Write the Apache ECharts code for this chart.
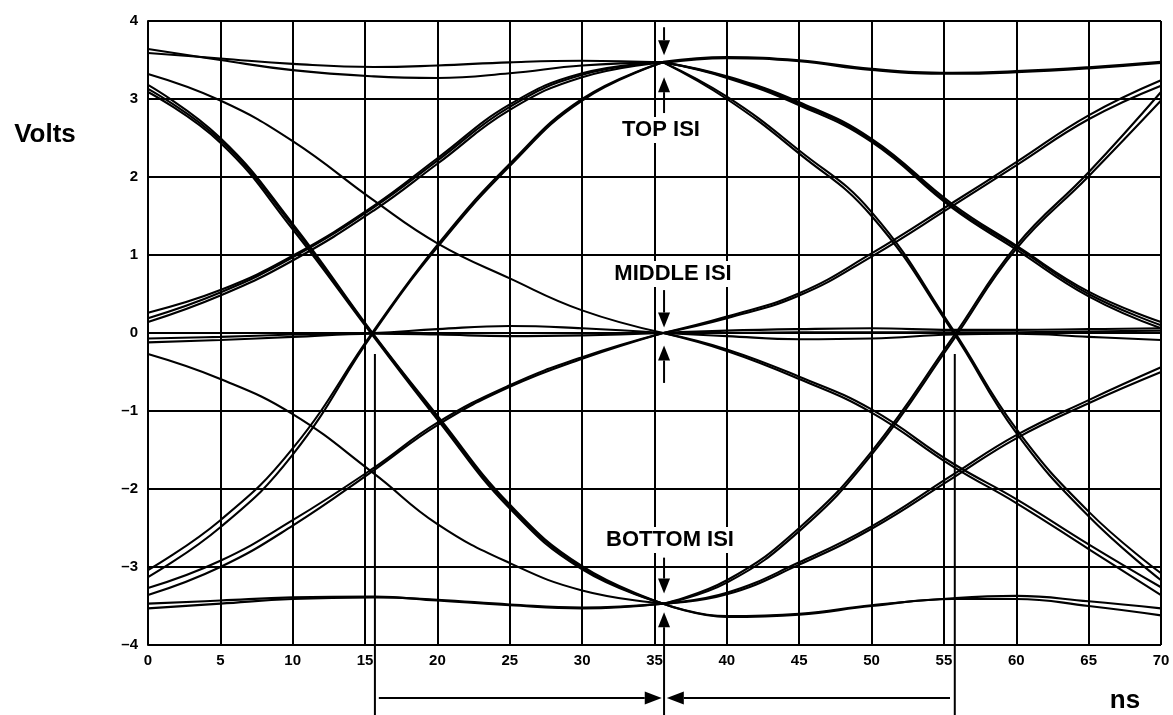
<!DOCTYPE html>
<html>
<head>
<meta charset="utf-8">
<script src="https://cdn.jsdelivr.net/npm/echarts@6/dist/echarts.min.js"></script>
<style>
  html, body { margin: 0; padding: 0; background: #fff; }
  #chart { width: 1173px; height: 715px; }
</style>
</head>
<body>
<div id="chart"></div>
<script>
// Sample instants (ns) for the two halves of the eye: the left half runs into
// the sampling point at 35.6 ns, the right half runs out of it.
const leftTimes  = [0, 5, 10, 15.6, 20, 25, 30, 35.6];
const rightTimes = [35.6, 40, 45, 50, 55.6, 60, 65, 70];

// Left half traces (volts at leftTimes), grouped by level transition
const topTopLeft = [
  [3.64, 3.50, 3.37, 3.29, 3.27, 3.33, 3.43, 3.47],
  [3.59, 3.52, 3.45, 3.41, 3.43, 3.47, 3.49, 3.47]
];
const topMidLeft = [
  [3.32, 2.98, 2.46, 1.70, 1.15, 0.70, 0.29, 0.00]
];
const topBotLeft = [
  [3.18, 2.50, 1.40, -0.02, -1.06, -2.20, -2.99, -3.47],
  [3.13, 2.47, 1.37, -0.03, -1.08, -2.22, -3.01, -3.47],
  [3.09, 2.44, 1.33, -0.05, -1.11, -2.25, -3.03, -3.47]
];
const midTopLeft = [
  [0.26, 0.55, 0.99, 1.63, 2.24, 2.93, 3.33, 3.47],
  [0.19, 0.52, 0.97, 1.61, 2.21, 2.90, 3.31, 3.47],
  [0.14, 0.48, 0.93, 1.57, 2.17, 2.86, 3.28, 3.47]
];
const midMidLeft = [
  [-0.07, -0.05, -0.02, 0.00, 0.05, 0.09, 0.06, 0.00],
  [-0.12, -0.09, -0.05, -0.01, -0.02, -0.04, -0.03, 0.00]
];
const midBotLeft = [
  [-0.27, -0.59, -1.04, -1.80, -2.45, -2.95, -3.30, -3.47]
];
const botTopLeft = [
  [-3.04, -2.40, -1.48, 0.03, 1.13, 2.17, 3.00, 3.47],
  [-3.13, -2.49, -1.56, 0.01, 1.10, 2.14, 2.98, 3.47]
];
const botMidLeft = [
  [-3.27, -2.92, -2.40, -1.73, -1.15, -0.67, -0.31, 0.00],
  [-3.36, -3.00, -2.47, -1.76, -1.18, -0.69, -0.33, 0.00]
];
const botBotLeft = [
  [-3.47, -3.43, -3.39, -3.38, -3.43, -3.49, -3.53, -3.47],
  [-3.53, -3.47, -3.41, -3.39, -3.42, -3.48, -3.52, -3.47]
];

// Right half traces (volts at rightTimes)
const topTopRight = [
  [3.47, 3.53, 3.49, 3.38, 3.33, 3.35, 3.40, 3.47]
];
const topMidRight = [
  [3.47, 3.29, 2.96, 2.49, 1.65, 1.12, 0.53, 0.14],
  [3.47, 3.28, 2.94, 2.47, 1.62, 1.10, 0.50, 0.10],
  [3.47, 3.27, 2.92, 2.45, 1.60, 1.07, 0.47, 0.06]
];
const topBotRight = [
  [3.47, 3.03, 2.34, 1.55, 0.05, -1.23, -2.29, -3.08],
  [3.47, 3.00, 2.30, 1.50, 0.02, -1.28, -2.35, -3.17]
];
const midTopRight = [
  [0.00, 0.21, 0.51, 1.02, 1.67, 2.19, 2.79, 3.24],
  [0.00, 0.19, 0.48, 0.98, 1.63, 2.15, 2.74, 3.17]
];
const midMidRight = [
  [0.00, 0.03, 0.05, 0.06, 0.04, 0.04, 0.05, 0.06],
  [0.00, 0.00, 0.01, 0.01, 0.01, 0.01, 0.02, 0.03],
  [0.00, -0.04, -0.08, -0.07, -0.02, -0.01, -0.05, -0.09]
];
const midBotRight = [
  [0.00, -0.21, -0.56, -0.98, -1.67, -2.13, -2.71, -3.26],
  [0.00, -0.23, -0.59, -1.02, -1.71, -2.18, -2.77, -3.36]
];
const botTopRight = [
  [-3.47, -3.17, -2.50, -1.52, -0.06, 1.12, 2.06, 3.09],
  [-3.47, -3.20, -2.54, -1.56, -0.10, 1.08, 2.01, 2.98]
];
const botMidRight = [
  [-3.47, -3.33, -2.94, -2.48, -1.82, -1.31, -0.86, -0.44],
  [-3.47, -3.35, -2.97, -2.51, -1.86, -1.35, -0.90, -0.50]
];
const botBotRight = [
  [-3.47, -3.63, -3.60, -3.49, -3.40, -3.37, -3.44, -3.53],
  [-3.47, -3.64, -3.61, -3.50, -3.41, -3.41, -3.50, -3.62]
];

// Annotation geometry (data units)
const isiTime = 35.66;
const edgeTimes = [15.68, 55.75];
const edgeTop = -0.27;
const lowEnd = -4.95;
const spanLevel = -4.68;
// [from, to] along the ISI marker; the head sits at "to"
const isiArrows = [
  [3.92, 3.56], [2.82, 3.28],
  [0.55, 0.07], [-0.64, -0.16],
  [-2.88, -3.34], [lowEnd, -3.58]
];
const spanArrows = [
  [[15.95, spanLevel], [35.50, spanLevel]],
  [[55.42, spanLevel], [35.85, spanLevel]]
];

const FONT = '"Liberation Sans", Arial, Helvetica, sans-serif';
const TRACE_W = 2.1;

function toPairs(times, vals) {
  return times.map((t, i) => [t, vals[i]]);
}

const groups = [
  [leftTimes, topTopLeft, TRACE_W], [leftTimes, topMidLeft, TRACE_W], [leftTimes, topBotLeft, TRACE_W],
  [leftTimes, midTopLeft, TRACE_W], [leftTimes, midMidLeft, TRACE_W], [leftTimes, midBotLeft, TRACE_W],
  [leftTimes, botTopLeft, TRACE_W], [leftTimes, botMidLeft, TRACE_W], [leftTimes, botBotLeft, TRACE_W],
  [rightTimes, topTopRight, 3.2], [rightTimes, topMidRight, TRACE_W], [rightTimes, topBotRight, TRACE_W],
  [rightTimes, midTopRight, TRACE_W], [rightTimes, midMidRight, TRACE_W], [rightTimes, midBotRight, TRACE_W],
  [rightTimes, botTopRight, TRACE_W], [rightTimes, botMidRight, TRACE_W], [rightTimes, botBotRight, TRACE_W]
];

const series = [];
groups.forEach(([times, traces, w]) => {
  traces.forEach(vals => {
    series.push({
      type: 'line',
      data: toPairs(times, vals),
      smooth: 0.45,
      symbol: 'none',
      silent: true,
      animation: false,
      lineStyle: { color: '#000', width: w }
    });
  });
});

const axisText = { color: '#000', fontSize: 15, fontWeight: 'bold', fontFamily: FONT };

const option = {
  backgroundColor: '#fff',
  animation: false,
  grid: { left: 148, top: 21, width: 1013, height: 624 },
  xAxis: {
    type: 'value', min: 0, max: 70, interval: 5,
    axisLine: { show: true, lineStyle: { color: '#000', width: 2 } },
    axisTick: { show: false },
    axisLabel: Object.assign({ margin: 8 }, axisText),
    splitLine: { show: true, lineStyle: { color: '#000', width: 2 } }
  },
  yAxis: {
    type: 'value', min: -4, max: 4, interval: 1,
    axisLine: { show: true, lineStyle: { color: '#000', width: 2 } },
    axisTick: { show: false },
    axisLabel: Object.assign({
      margin: 10,
      formatter: v => (v < 0 ? '\u2013' + (-v) : String(v))
    }, axisText),
    splitLine: { show: true, lineStyle: { color: '#000', width: 2 } }
  },
  series: series
};

const chart = echarts.init(document.getElementById('chart'));
chart.setOption(option);

// Overlay: sampling markers, ISI arrows and labels
const px = (t, v) => chart.convertToPixel({ gridIndex: 0 }, [t, v]);

function line(p0, p1) {
  return { type: 'line', z: 100, shape: { x1: p0[0], y1: p0[1], x2: p1[0], y2: p1[1] },
           style: { stroke: '#000', lineWidth: 2 } };
}
function arrow(p0, p1, head, half) {
  const dx = p1[0] - p0[0], dy = p1[1] - p0[1];
  const L = Math.hypot(dx, dy), ux = dx / L, uy = dy / L;
  const b = [p1[0] - ux * head, p1[1] - uy * head];
  return [
    line(p0, b),
    { type: 'polygon', z: 100,
      shape: { points: [p1, [b[0] - uy * half, b[1] + ux * half], [b[0] + uy * half, b[1] - ux * half]] },
      style: { fill: '#000' } }
  ];
}
function label(text, x, y, size, bg) {
  return { type: 'text', z: 101, x: x, y: y,
           style: { text: text, font: 'bold ' + size + 'px ' + FONT, fill: '#000',
                    align: 'center', verticalAlign: 'middle',
                    backgroundColor: bg ? '#fff' : null, padding: bg ? [2, 3] : 0 } };
}

const elements = [];
edgeTimes.forEach(t => elements.push(line(px(t, edgeTop), px(t, lowEnd))));
isiArrows.forEach(([a, b]) => elements.push(...arrow(px(isiTime, a), px(isiTime, b), 15, 6)));
spanArrows.forEach(([a, b]) => elements.push(...arrow(px(a[0], a[1]), px(b[0], b[1]), 17, 6.5)));

elements.push(label('TOP ISI', 661, 130, 22, true));
elements.push(label('MIDDLE ISI', 673, 274, 22, true));
elements.push(label('BOTTOM ISI', 670, 540, 22, true));
elements.push(label('Volts', 45, 135, 26, false));
elements.push(label('ns', 1125, 701, 26, false));

chart.setOption({ graphic: { elements: elements } });
</script>
</body>
</html>
